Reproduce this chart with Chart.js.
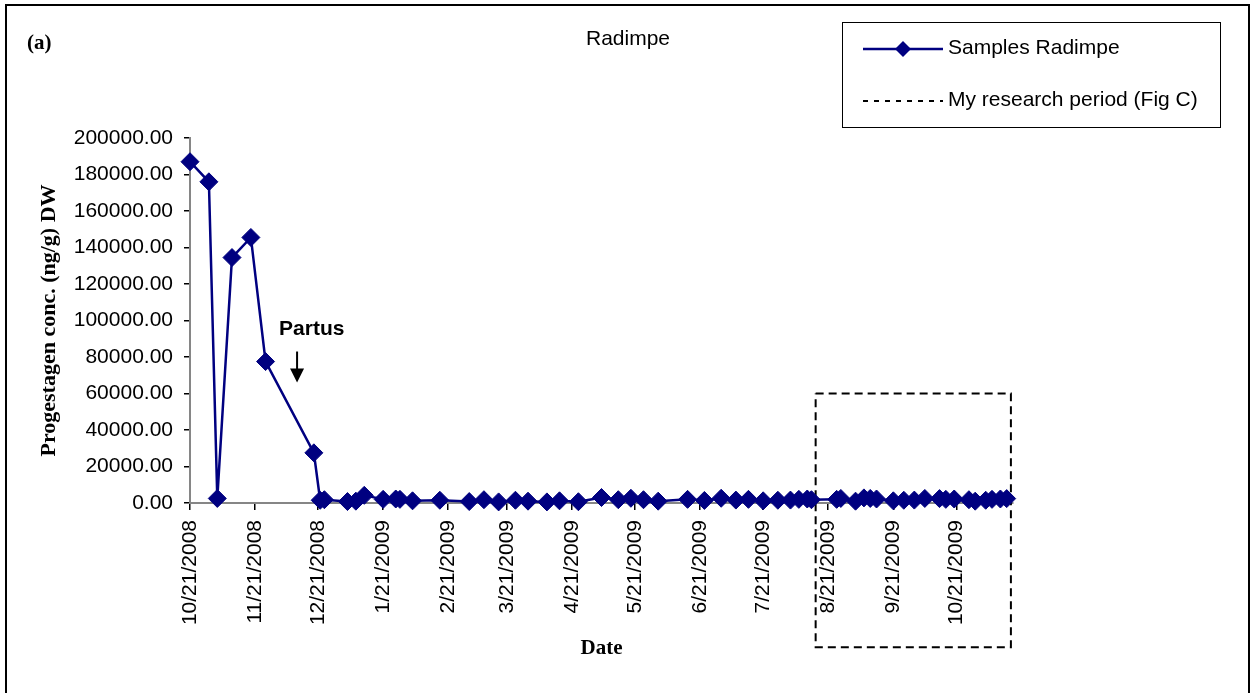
<!DOCTYPE html>
<html>
<head>
<meta charset="utf-8">
<script src="https://cdn.jsdelivr.net/npm/chart.js@4/dist/chart.umd.min.js"></script>
<style>
html, body { margin: 0; padding: 0; background: #fff; }
#wrap { position: relative; width: 1252px; height: 693px; }
</style>
</head>
<body>
<div id="wrap"><canvas id="chart-area"></canvas></div>
<script>
// sample dates and progestagen values (ng/g DW)
var sampleDates = ['10/21/2008', '10/30/2008', '11/3/2008', '11/10/2008', '11/19/2008', '11/26/2008',
    '12/19/2008', '12/22/2008', '12/24/2008', '1/4/2009', '1/8/2009', '1/12/2009', '1/21/2009',
    '1/27/2009', '1/29/2009', '2/4/2009', '2/17/2009', '3/3/2009', '3/10/2009', '3/17/2009',
    '3/25/2009', '3/31/2009', '4/9/2009', '4/15/2009', '4/24/2009', '5/5/2009', '5/13/2009',
    '5/19/2009', '5/25/2009', '6/1/2009', '6/15/2009', '6/23/2009', '7/1/2009', '7/8/2009',
    '7/14/2009', '7/21/2009', '7/28/2009', '8/3/2009', '8/7/2009', '8/11/2009', '8/13/2009',
    '8/25/2009', '8/27/2009', '9/3/2009', '9/7/2009', '9/10/2009', '9/13/2009', '9/21/2009',
    '9/26/2009', '10/1/2009', '10/6/2009', '10/13/2009', '10/16/2009', '10/20/2009', '10/27/2009',
    '10/30/2009', '11/4/2009', '11/7/2009', '11/11/2009', '11/14/2009'];
var progestagen = [187000, 176000, 2500, 134500, 145500, 77500,
    27500, 1500, 1800, 800, 1000, 4200, 2000,
    2200, 2000, 1200, 1500, 800, 1800, 600,
    1500, 1000, 600, 1200, 700, 3000, 1800,
    2600, 1800, 1000, 2000, 1400, 2600, 1600,
    2000, 1200, 1500, 1600, 2000, 2200, 1800,
    2000, 2500, 1000, 2800, 2500, 2200, 1200,
    1500, 1600, 2500, 2400, 2000, 2200, 1800,
    1000, 1500, 2000, 2200, 2400];

var tickLabels = ['10/21/2008', '11/21/2008', '12/21/2008', '1/21/2009', '2/21/2009', '3/21/2009',
    '4/21/2009', '5/21/2009', '6/21/2009', '7/21/2009', '8/21/2009', '9/21/2009', '10/21/2009'];
var axisDates = ['10/21/2008', '11/17/2009'];
var yTicks = [0, 200000, 20000];

// "My research period (Fig C)" box
var periodDates = ['8/15/2009', '11/16/2009'];
var periodLevels = [60000, -79000];

// Partus arrow
var partusDate = '12/11/2008';
var partusText = '12/18/2008';
var partusLevels = [95500, 83000, 66000];

function dayNum(s) {
    var p = s.split('/');
    return Date.UTC(+p[2], +p[0] - 1, +p[1]) / 86400000;
}

var samplePoints = sampleDates.map(function(d, i) {
    return { x: dayNum(d), y: progestagen[i] };
});
var periodPoints = [
    { x: dayNum(periodDates[0]), y: periodLevels[0] },
    { x: dayNum(periodDates[1]), y: periodLevels[0] },
    { x: dayNum(periodDates[1]), y: periodLevels[1] },
    { x: dayNum(periodDates[0]), y: periodLevels[1] },
    { x: dayNum(periodDates[0]), y: periodLevels[0] }
];

var SANS = '"Liberation Sans", Arial, sans-serif';
var SERIF = '"Liberation Serif", "Times New Roman", serif';

var extras = {
    id: 'extras',
    afterDraw: function(chart) {
        var ctx = chart.ctx;
        var xs = chart.scales.x, ys = chart.scales.y;
        ctx.save();

        // figure frame
        ctx.strokeStyle = '#000';
        ctx.lineWidth = 2;
        ctx.strokeRect(6, 5, 1243, 720);

        ctx.fillStyle = '#000';
        ctx.textBaseline = 'middle';
        ctx.font = 'bold 21px ' + SERIF;
        ctx.textAlign = 'left';
        ctx.fillText('(a)', 27, 44);

        ctx.font = '21px ' + SANS;
        ctx.textAlign = 'center';
        ctx.fillText('Radimpe', 628, 39);

        // Partus annotation
        ctx.font = 'bold 21px ' + SANS;
        ctx.fillText('Partus', xs.getPixelForValue(dayNum(partusText)), ys.getPixelForValue(partusLevels[0]));
        var ax = xs.getPixelForValue(dayNum(partusDate));
        var a0 = ys.getPixelForValue(partusLevels[1]);
        var a1 = ys.getPixelForValue(partusLevels[2]);
        ctx.lineWidth = 2;
        ctx.beginPath();
        ctx.moveTo(ax, a0);
        ctx.lineTo(ax, a1 - 10);
        ctx.stroke();
        ctx.beginPath();
        ctx.moveTo(ax - 7, a1 - 14);
        ctx.lineTo(ax + 7, a1 - 14);
        ctx.lineTo(ax, a1);
        ctx.closePath();
        ctx.fill();

        // legend
        var lx = 842, ly = 22, lw = 378, lh = 105;
        ctx.fillStyle = '#fff';
        ctx.fillRect(lx, ly, lw, lh);
        ctx.strokeStyle = '#000';
        ctx.lineWidth = 1;
        ctx.strokeRect(lx + 0.5, ly + 0.5, lw, lh);
        var rows = [49, 101];
        chart.data.datasets.forEach(function(ds, i) {
            var y = rows[i];
            ctx.save();
            ctx.strokeStyle = ds.borderColor;
            ctx.lineWidth = i === 0 ? ds.borderWidth : 2;
            ctx.setLineDash(i === 0 ? [] : [5, 6]);
            ctx.beginPath();
            ctx.moveTo(863, y);
            ctx.lineTo(943, y);
            ctx.stroke();
            ctx.restore();
            if (ds.pointRadius > 0) {
                ctx.fillStyle = ds.pointBackgroundColor;
                ctx.beginPath();
                ctx.moveTo(903, y - 8);
                ctx.lineTo(911, y);
                ctx.lineTo(903, y + 8);
                ctx.lineTo(895, y);
                ctx.closePath();
                ctx.fill();
            }
            ctx.fillStyle = '#000';
            ctx.font = '21px ' + SANS;
            ctx.textAlign = 'left';
            ctx.fillText(ds.label, 948, y - 1);
        });
        ctx.restore();
    }
};

var config = {
    type: 'line',
    data: {
        datasets: [{
            label: 'Samples Radimpe',
            data: samplePoints,
            borderColor: '#000080',
            borderWidth: 2.5,
            pointStyle: 'rectRot',
            pointRadius: 9,
            pointBackgroundColor: '#000080',
            pointBorderColor: '#000080',
            pointBorderWidth: 1,
            tension: 0,
            clip: false,
            order: 1
        }, {
            label: 'My research period (Fig C)',
            data: periodPoints,
            borderColor: '#000',
            borderWidth: 2,
            borderDash: [8, 5],
            pointRadius: 0,
            clip: false,
            tension: 0,
            order: 2
        }]
    },
    options: {
        responsive: false,
        animation: false,
        layout: { padding: { left: 30, right: 239, top: 138, bottom: 20 } },
        plugins: {
            legend: { display: false },
            title: { display: false },
            tooltip: { enabled: false }
        },
        scales: {
            x: {
                type: 'linear',
                min: dayNum(axisDates[0]),
                max: dayNum(axisDates[1]),
                afterBuildTicks: function(scale) {
                    scale.ticks = tickLabels.map(function(s) { return { value: dayNum(s) }; });
                },
                afterFit: function(scale) { scale.height = 170; },
                ticks: {
                    autoSkip: false,
                    minRotation: 90,
                    maxRotation: 90,
                    padding: 10,
                    color: '#000',
                    font: { family: SANS, size: 21 },
                    callback: function(v, i) { return tickLabels[i]; }
                },
                grid: { drawOnChartArea: false, tickLength: 7, color: '#000', lineWidth: 1.5 },
                border: { color: '#868686', width: 2 },
                title: {
                    display: true,
                    text: 'Date',
                    color: '#000',
                    font: { family: SERIF, size: 21, weight: 'bold' },
                    padding: { top: 0, bottom: 12 }
                }
            },
            y: {
                min: yTicks[0],
                max: yTicks[1],
                afterFit: function(scale) { scale.width = 160; },
                ticks: {
                    stepSize: yTicks[2],
                    padding: 11,
                    color: '#000',
                    font: { family: SANS, size: 21 },
                    callback: function(v) { return v.toFixed(2); }
                },
                grid: { drawOnChartArea: false, tickLength: 6, color: '#000', lineWidth: 1.5 },
                border: { color: '#868686', width: 2 },
                title: {
                    display: true,
                    text: 'Progestagen conc. (ng/g) DW',
                    color: '#000',
                    font: { family: SERIF, size: 22, weight: 'bold' },
                    padding: { top: 6, bottom: 0 }
                }
            }
        }
    },
    plugins: [extras]
};

var canvas = document.getElementById('chart-area');
canvas.width = 1252;
canvas.height = 693;
canvas.style.width = '1252px';
canvas.style.height = '693px';
window.myLine = new Chart(canvas.getContext('2d'), config);
</script>
</body>
</html>
